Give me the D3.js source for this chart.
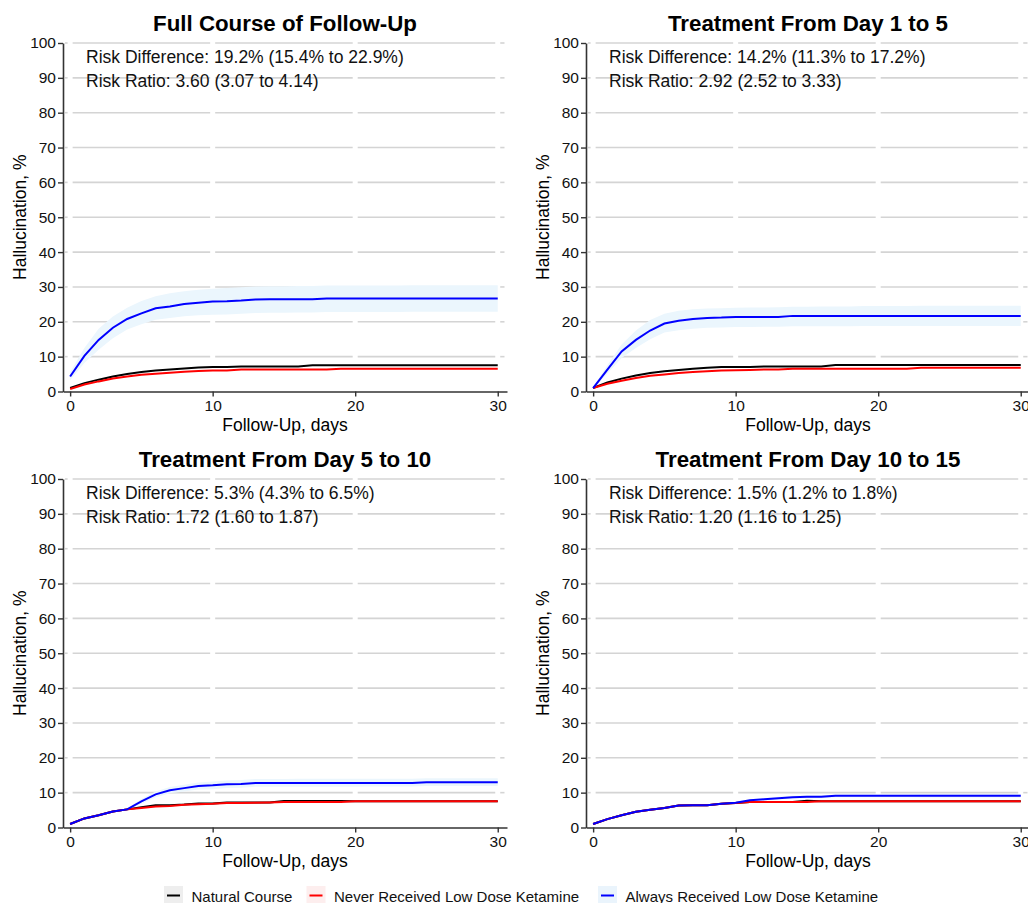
<!DOCTYPE html>
<html>
<head>
<meta charset="utf-8">
<script src="https://cdn.jsdelivr.net/npm/d3@7"></script>
<style>
  body { margin: 0; background: #fff; }
  svg { font-family: "Liberation Sans", Arial, sans-serif; }
</style>
</head>
<body>
<svg id="chart" width="1028" height="903"></svg>
<script>
// x values (follow-up day) and axis ticks
const days = [0,1,2,3,4,5,6,7,8,9,10,11,12,13,14,15,16,17,18,19,20,21,22,23,24,25,26,27,28,29,30];
const xTicks = [0, 10, 20, 30];
const yTicks = [0, 10, 20, 30, 40, 50, 60, 70, 80, 90, 100];

const titles = ["Full Course of Follow-Up", "Treatment From Day 1 to 5", "Treatment From Day 5 to 10", "Treatment From Day 10 to 15"];
const riskDiff = ["Risk Difference: 19.2% (15.4% to 22.9%)", "Risk Difference: 14.2% (11.3% to 17.2%)", "Risk Difference: 5.3% (4.3% to 6.5%)", "Risk Difference: 1.5% (1.2% to 1.8%)"];
const riskRatio = ["Risk Ratio: 3.60 (3.07 to 4.14)", "Risk Ratio: 2.92 (2.52 to 3.33)", "Risk Ratio: 1.72 (1.60 to 1.87)", "Risk Ratio: 1.20 (1.16 to 1.25)"];
const legendLabels = ["Natural Course", "Never Received Low Dose Ketamine", "Always Received Low Dose Ketamine"];

// Full course of follow-up
const fullNatural = [1.0,2.4,3.4,4.3,5.0,5.6,6.0,6.3,6.6,6.9,7.0,7.0,7.2,7.2,7.2,7.2,7.2,7.5,7.5,7.5,7.5,7.5,7.5,7.5,7.5,7.5,7.5,7.5,7.5,7.5,7.5];
const fullNever   = [0.7,2.0,2.9,3.7,4.3,4.8,5.1,5.4,5.7,5.9,6.0,6.0,6.3,6.3,6.3,6.3,6.3,6.3,6.3,6.5,6.5,6.5,6.5,6.5,6.5,6.5,6.5,6.5,6.5,6.5,6.5];
const fullAlways  = [4.3,10.2,14.8,18.3,20.8,22.4,23.9,24.4,25.1,25.5,25.8,25.9,26.1,26.4,26.5,26.5,26.5,26.5,26.7,26.7,26.7,26.7,26.7,26.7,26.7,26.7,26.7,26.7,26.7,26.7,26.7];
const fullAlwaysHi = [5.5,12.5,18.0,21.5,24.0,26.0,27.3,28.2,28.8,29.2,29.5,29.7,29.9,30.1,30.2,30.2,30.3,30.3,30.4,30.4,30.4,30.4,30.4,30.4,30.5,30.5,30.5,30.5,30.5,30.5,30.5];
const fullAlwaysLo = [3.2,8.2,12.0,15.3,17.8,19.3,20.6,21.1,21.6,21.9,22.0,22.1,22.3,22.5,22.6,22.6,22.7,22.7,22.8,22.8,22.8,22.8,22.8,22.8,22.9,22.9,22.9,22.9,22.9,22.9,22.9];

// Treatment from day 1 to 5
const d1Natural = [1.0,2.6,3.7,4.6,5.3,5.8,6.2,6.5,6.8,7.0,7.0,7.0,7.2,7.2,7.2,7.2,7.2,7.6,7.6,7.6,7.6,7.6,7.6,7.6,7.6,7.6,7.6,7.6,7.6,7.6,7.6];
const d1Never   = [1.0,2.2,3.1,3.9,4.5,4.9,5.3,5.6,5.8,6.0,6.1,6.2,6.3,6.3,6.5,6.5,6.5,6.5,6.5,6.5,6.5,6.5,6.5,6.8,6.8,6.8,6.8,6.8,6.8,6.8,6.8];
const d1Always  = [1.0,6.3,11.5,14.8,17.5,19.5,20.3,20.8,21.1,21.2,21.4,21.4,21.4,21.4,21.7,21.7,21.7,21.7,21.7,21.7,21.7,21.7,21.7,21.7,21.7,21.7,21.7,21.7,21.7,21.7,21.7];
const d1AlwaysHi = [1.3,7.5,13.5,17.5,20.5,22.3,23.2,23.6,23.8,23.9,24.0,24.1,24.1,24.2,24.3,24.3,24.4,24.4,24.4,24.5,24.5,24.5,24.5,24.6,24.6,24.6,24.6,24.6,24.6,24.6,24.6];
const d1AlwaysLo = [0.8,5.2,9.6,12.5,15.0,16.9,17.6,18.0,18.3,18.4,18.5,18.5,18.6,18.6,18.7,18.7,18.7,18.7,18.7,18.8,18.8,18.8,18.8,18.8,18.8,18.8,18.8,18.8,18.8,18.8,18.8];

// Treatment from day 5 to 10
const d5Natural = [1.0,2.6,3.5,4.6,5.2,5.8,6.4,6.4,6.6,6.9,6.9,7.2,7.2,7.2,7.2,7.6,7.6,7.6,7.6,7.6,7.5,7.5,7.5,7.5,7.5,7.5,7.5,7.5,7.5,7.5,7.5];
const d5Never   = [1.0,2.6,3.5,4.6,5.2,5.6,6.0,6.2,6.5,6.7,6.8,7.0,7.0,7.1,7.2,7.3,7.3,7.3,7.3,7.3,7.5,7.5,7.5,7.5,7.5,7.5,7.5,7.5,7.5,7.5,7.5];
const d5Always  = [1.0,2.6,3.5,4.6,5.2,7.5,9.5,10.7,11.3,11.9,12.1,12.4,12.5,12.8,12.8,12.8,12.8,12.8,12.8,12.8,12.8,12.8,12.8,12.8,12.8,13.0,13.0,13.0,13.0,13.0,13.0];
const d5AlwaysHi = [1.2,2.8,3.7,4.8,5.5,8.2,10.3,11.6,12.3,12.9,13.2,13.5,13.6,13.9,13.9,13.9,14.0,14.0,14.0,14.0,14.0,14.0,14.0,14.0,14.0,14.1,14.1,14.1,14.1,14.1,14.1];
const d5AlwaysLo = [0.8,2.4,3.3,4.4,4.9,6.8,8.7,9.8,10.3,10.9,11.0,11.3,11.4,11.7,11.7,11.7,11.7,11.7,11.7,11.7,11.7,11.8,11.8,11.8,11.8,11.9,11.9,11.9,11.9,11.9,11.9];

// Treatment from day 10 to 15
const d10Natural = [1.0,2.4,3.5,4.5,5.1,5.6,6.3,6.4,6.4,6.8,7.0,7.3,7.3,7.3,7.3,7.7,7.5,7.5,7.5,7.5,7.5,7.5,7.5,7.5,7.5,7.5,7.5,7.5,7.5,7.5,7.5];
const d10Never   = [1.0,2.4,3.5,4.5,5.1,5.6,6.3,6.4,6.4,6.8,7.0,7.3,7.3,7.3,7.3,7.3,7.5,7.5,7.5,7.5,7.5,7.5,7.5,7.5,7.5,7.5,7.5,7.5,7.5,7.5,7.5];
const d10Always  = [1.0,2.4,3.5,4.5,5.1,5.6,6.3,6.4,6.4,6.8,7.1,7.8,8.1,8.4,8.7,8.8,8.8,9.1,9.1,9.1,9.1,9.1,9.1,9.1,9.1,9.1,9.1,9.1,9.1,9.1,9.1];
const d10AlwaysHi = [1.1,2.5,3.6,4.6,5.2,5.7,6.4,6.5,6.6,7.0,7.3,8.1,8.4,8.8,9.1,9.2,9.2,9.5,9.5,9.5,9.5,9.5,9.5,9.6,9.6,9.6,9.6,9.6,9.6,9.6,9.6];
const d10AlwaysLo = [0.9,2.3,3.4,4.4,5.0,5.5,6.2,6.3,6.2,6.6,6.9,7.5,7.8,8.0,8.3,8.4,8.4,8.7,8.7,8.7,8.7,8.7,8.7,8.6,8.6,8.6,8.6,8.6,8.6,8.6,8.6];

const panelData = [
  { natural: fullNatural, never: fullNever, always: fullAlways, hi: fullAlwaysHi, lo: fullAlwaysLo },
  { natural: d1Natural, never: d1Never, always: d1Always, hi: d1AlwaysHi, lo: d1AlwaysLo },
  { natural: d5Natural, never: d5Never, always: d5Always, hi: d5AlwaysHi, lo: d5AlwaysLo },
  { natural: d10Natural, never: d10Never, always: d10Always, hi: d10AlwaysHi, lo: d10AlwaysLo }
];

const colors = ["#000000", "#ff0000", "#0000ff"];
const bandColors = ["#eeeeee", "#fdeeee", "#eaf4fc"];

const svg = d3.select("#chart");

// panel geometry (plot area inside each panel)
const colOffset = 523, rowOffset = 436;
const xScale = d3.scaleLinear().domain([-0.5, 30.65]).range([63, 507]);
const yScale = d3.scaleLinear().domain([0, 100]).range([391.5, 43]);

function drawPanel(i) {
  const d = panelData[i];
  const g = svg.append("g")
    .attr("transform", `translate(${(i % 2) * colOffset}, ${Math.floor(i / 2) * rowOffset})`);

  // gridlines, broken slightly at each x tick like the original
  const breaks = [xScale.range()[0]].concat(xTicks.map(xScale), [xScale.range()[1]]);
  yTicks.slice(1).forEach((t) => {
    for (let k = 0; k < breaks.length - 1; k++) {
      const a = breaks[k] + (k === 0 ? 2 : 2.5);
      const b = breaks[k + 1] - 2.5;
      if (b <= a) continue;
      g.append("line")
        .attr("x1", a).attr("x2", b)
        .attr("y1", yScale(t)).attr("y2", yScale(t))
        .attr("stroke", "#d4d4d4").attr("stroke-width", 1.6);
    }
  });

  // confidence band for always received
  const area = d3.area()
    .x((v, j) => xScale(days[j]))
    .y0((v, j) => yScale(d.lo[j]))
    .y1((v, j) => yScale(d.hi[j]));
  g.append("path").datum(d.hi).attr("d", area).attr("fill", "#ebf6fd");

  const line = d3.line()
    .x((v, j) => xScale(days[j]))
    .y((v) => yScale(v));

  [d.natural, d.never, d.always].forEach((s, k) => {
    g.append("path").datum(s).attr("d", line)
      .attr("fill", "none").attr("stroke", colors[k]).attr("stroke-width", 2);
  });

  // axes
  const yAxis = g.append("g")
    .attr("transform", `translate(${xScale.range()[0]}, 0)`)
    .call(d3.axisLeft(yScale).tickValues(yTicks).tickSize(5).tickPadding(2).tickSizeOuter(0));
  const xAxis = g.append("g")
    .attr("transform", `translate(0, ${yScale(0)})`)
    .call(d3.axisBottom(xScale).tickValues(xTicks).tickSize(5).tickPadding(3).tickSizeOuter(0));
  [yAxis, xAxis].forEach((ax) => {
    ax.select(".domain").attr("stroke", "#333").attr("stroke-width", 1.6);
    ax.selectAll(".tick line").attr("stroke", "#333").attr("stroke-width", 1.4);
    ax.selectAll(".tick text").attr("fill", "#111").style("font-size", "15.5px")
      .style("font-family", "'Liberation Sans', Arial, sans-serif");
  });

  const cx = (xScale.range()[0] + xScale.range()[1]) / 2;

  g.append("text").attr("x", cx).attr("y", 31)
    .attr("text-anchor", "middle").style("font-size", "22.3px").style("font-weight", "bold")
    .text(titles[i]);

  g.append("text").attr("x", 86).attr("y", 63)
    .style("font-size", "17.5px").attr("fill", "#111").text(riskDiff[i]);
  g.append("text").attr("x", 86).attr("y", 87)
    .style("font-size", "17.5px").attr("fill", "#111").text(riskRatio[i]);

  g.append("text").attr("x", cx).attr("y", yScale(0) + 39)
    .attr("text-anchor", "middle").style("font-size", "17.5px").text("Follow-Up, days");

  const cy = (yScale.range()[0] + yScale.range()[1]) / 2;
  g.append("text")
    .attr("transform", `translate(26, ${cy}) rotate(-90)`)
    .attr("text-anchor", "middle").style("font-size", "17.5px").text("Hallucination, %");
}

[0, 1, 2, 3].forEach(drawPanel);

// legend
const legendX = [164, 306.5, 598];
const legend = svg.append("g");
legendLabels.forEach((lab, k) => {
  const x = legendX[k];
  legend.append("rect").attr("x", x).attr("y", 886).attr("width", 19).attr("height", 19)
    .attr("fill", bandColors[k]);
  legend.append("line").attr("x1", x + 3).attr("x2", x + 16)
    .attr("y1", 895.5).attr("y2", 895.5)
    .attr("stroke", colors[k]).attr("stroke-width", 2);
  legend.append("text").attr("x", x + 27.5).attr("y", 901.5)
    .style("font-size", "15px").attr("fill", "#111").text(lab);
});
</script>
</body>
</html>
